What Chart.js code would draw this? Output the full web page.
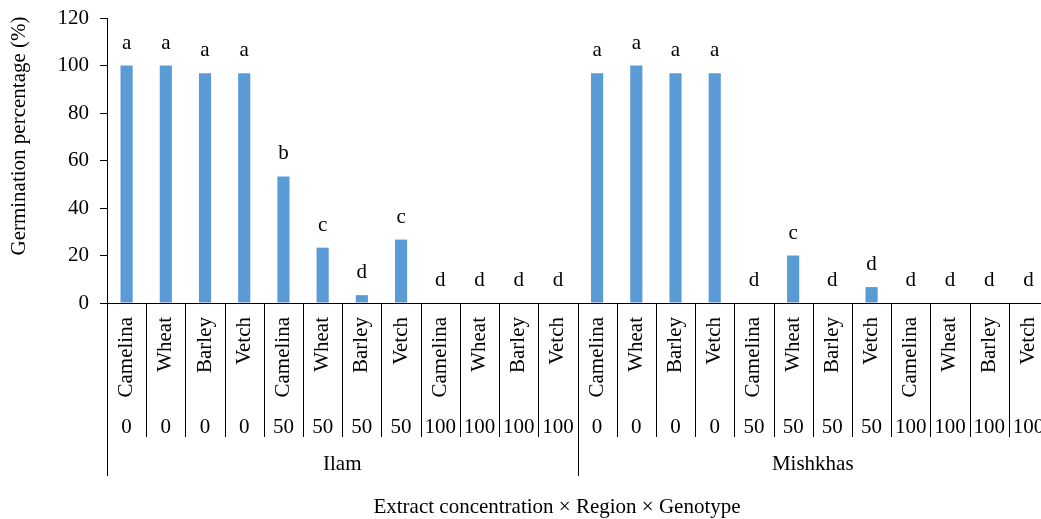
<!DOCTYPE html>
<html>
<head>
<meta charset="utf-8">
<script src="https://cdn.jsdelivr.net/npm/chart.js@4.4.1/dist/chart.umd.min.js"></script>
<style>
  html, body { margin: 0; padding: 0; background: #fff; overflow: hidden; }
  #wrap { width: 1048px; height: 519px; }
</style>
</head>
<body>
<div id="wrap"><canvas id="chart" width="1048" height="519"></canvas></div>
<script>
// Factor levels of the x axis
const regions = ['Ilam', 'Mishkhas'];
const concentrations = ['0', '50', '100'];
const genotypes = ['Camelina', 'Wheat', 'Barley', 'Vetch'];

// Germination percentage (%) per region, in concentration × genotype order
const ilamGermination = [100, 100, 96.7, 96.7, 53.3, 23.3, 3.3, 26.7, 0, 0, 0, 0];
const mishkhasGermination = [96.7, 100, 96.7, 96.7, 0, 20, 0, 6.7, 0, 0, 0, 0];

// Mean-comparison letters
const ilamLetters = ['a', 'a', 'a', 'a', 'b', 'c', 'd', 'c', 'd', 'd', 'd', 'd'];
const mishkhasLetters = ['a', 'a', 'a', 'a', 'd', 'c', 'd', 'd', 'd', 'd', 'd', 'd'];

// Y axis ticks
const yTicks = [0, 20, 40, 60, 80, 100, 120];

const FONT = "'Liberation Serif', 'Times New Roman', serif";
const FONT_SIZE = 21;

// Flatten the factor combinations into category rows
const rows = [];
regions.forEach(region => {
  concentrations.forEach(conc => {
    genotypes.forEach(gen => rows.push({ region, conc, gen }));
  });
});
const values = ilamGermination.concat(mishkhasGermination);
const letters = ilamLetters.concat(mishkhasLetters);
const labels = rows.map(r => r.region + ' ' + r.conc + ' ' + r.gen);

// Draws the grouped (genotype / concentration / region) x axis, the letters and axis titles
const groupedAxis = {
  id: 'groupedAxis',
  afterDatasetsDraw(chart) {
    const ctx = chart.ctx;
    const x = chart.scales.x;
    const area = chart.chartArea;
    const n = rows.length;
    const step = (area.right - area.left) / n;
    const axisY = area.bottom;

    ctx.save();
    ctx.fillStyle = '#000';
    ctx.strokeStyle = '#000';
    ctx.lineWidth = 1;
    ctx.font = FONT_SIZE + 'px ' + FONT;

    // letters above bars
    const meta = chart.getDatasetMeta(0);
    ctx.textAlign = 'center';
    ctx.textBaseline = 'alphabetic';
    meta.data.forEach((bar, i) => {
      ctx.fillText(letters[i], bar.x, bar.y - 17);
    });

    // category dividers
    for (let i = 0; i <= n; i++) {
      const px = Math.round(area.left + i * step) + 0.5;
      const isRegionEdge = (i % (concentrations.length * genotypes.length)) === 0;
      ctx.beginPath();
      ctx.moveTo(px, axisY);
      ctx.lineTo(px, isRegionEdge ? 476 : 437);
      ctx.stroke();
    }

    // genotype labels (rotated) and concentration labels
    rows.forEach((r, i) => {
      const cx = x.getPixelForValue(i);
      ctx.save();
      ctx.translate(cx, 317);
      ctx.rotate(-Math.PI / 2);
      ctx.textAlign = 'right';
      ctx.textBaseline = 'middle';
      ctx.fillText(r.gen, 0, 0);
      ctx.restore();

      ctx.textAlign = 'center';
      ctx.textBaseline = 'alphabetic';
      ctx.fillText(r.conc, cx, 433);
    });

    // region labels
    const perRegion = concentrations.length * genotypes.length;
    regions.forEach((reg, k) => {
      const left = area.left + k * perRegion * step;
      const right = left + perRegion * step;
      ctx.textAlign = 'center';
      ctx.fillText(reg, (left + right) / 2, 470);
    });

    // axis titles
    ctx.textAlign = 'center';
    ctx.fillText('Extract concentration × Region × Genotype', 557, 513);

    ctx.save();
    ctx.translate(25, 136);
    ctx.rotate(-Math.PI / 2);
    ctx.textBaseline = 'alphabetic';
    ctx.fillText('Germination percentage (%)', 0, 0);
    ctx.restore();

    ctx.restore();
  }
};

new Chart(document.getElementById('chart'), {
  type: 'bar',
  data: {
    labels: labels,
    datasets: [{
      data: values,
      backgroundColor: '#5B9BD5',
      borderWidth: 0,
      categoryPercentage: 1,
      barPercentage: 0.31
    }]
  },
  options: {
    responsive: false,
    animation: false,
    layout: { padding: { top: 18, right: 0, bottom: 0, left: 0 } },
    plugins: {
      legend: { display: false },
      tooltip: { enabled: false }
    },
    scales: {
      x: {
        grid: { display: false },
        border: { display: true, color: '#000', width: 1 },
        ticks: { display: false },
        afterFit(scale) {
          scale.height = 519 - 303;
          scale.paddingLeft = 0;
          scale.paddingRight = 0;
        }
      },
      y: {
        min: 0,
        max: 120,
        afterBuildTicks(scale) { scale.ticks = yTicks.map(v => ({ value: v })); },
        grid: { display: true, drawOnChartArea: false, drawTicks: true, tickLength: 7, color: '#000' },
        border: { display: true, color: '#000', width: 1 },
        ticks: {
          padding: 11,
          color: '#000',
          font: { family: FONT, size: FONT_SIZE }
        },
        afterFit(scale) {
          scale.width = 107;
          scale.paddingTop = 0;
          scale.paddingBottom = 0;
        }
      }
    }
  },
  plugins: [groupedAxis]
});
</script>
</body>
</html>
